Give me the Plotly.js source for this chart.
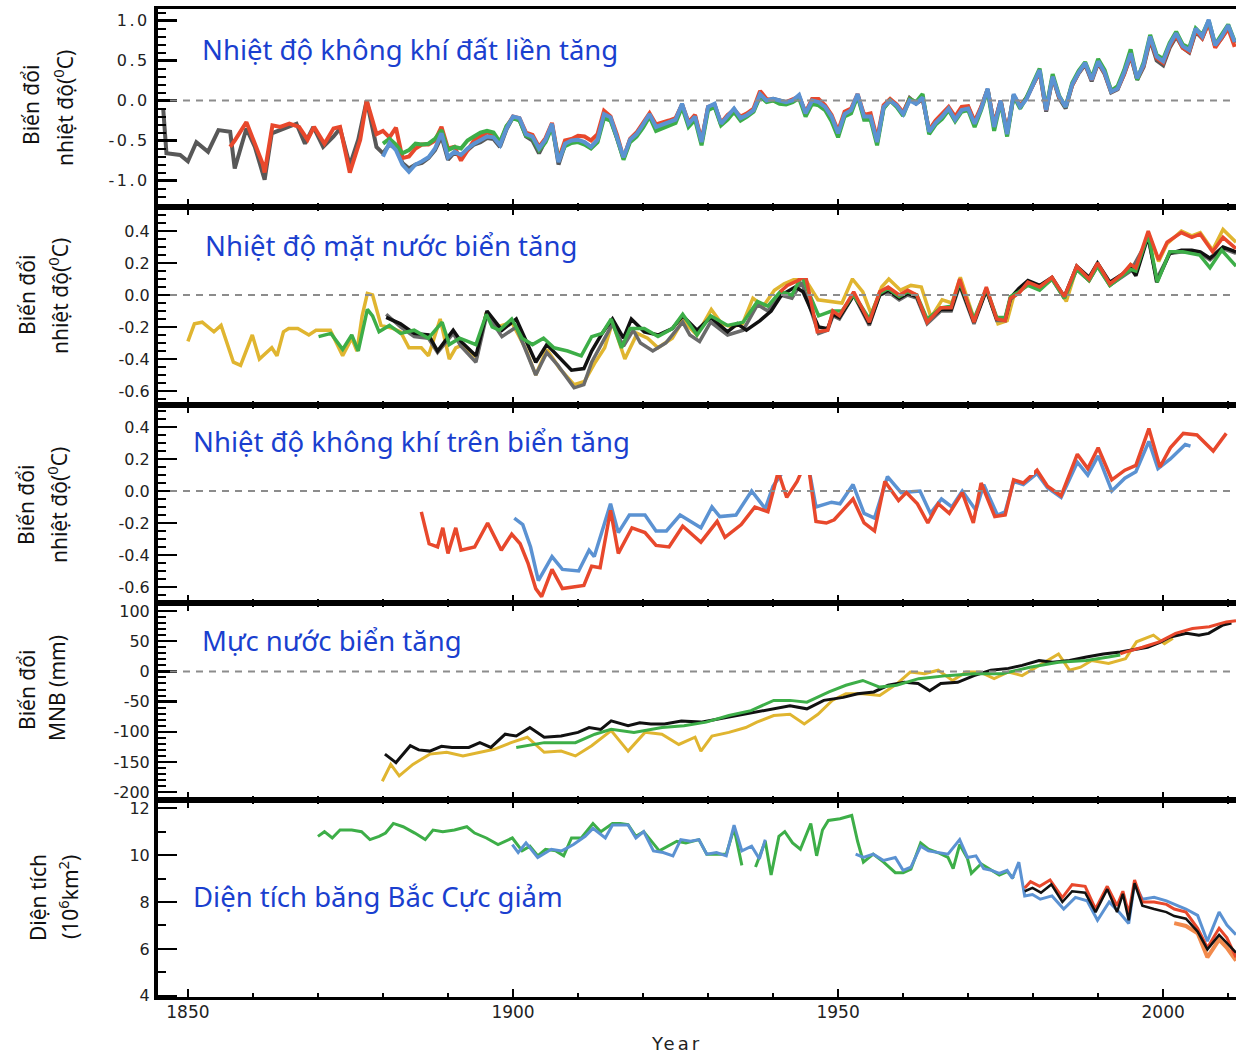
<!DOCTYPE html>
<html><head><meta charset="utf-8">
<script src="https://cdn.plot.ly/plotly-3.0.1.min.js"></script>
<style>
body{margin:0;background:#fff}
#chart{width:1236px;height:1053px}
.xtick text,.ytick text{letter-spacing:2.5px}
text[data-unformatted="Year"]{letter-spacing:3px}
</style></head><body><div id="chart"></div><script>
// ---------- DATA ----------
const xTickVals = [1850, 1900, 1950, 2000];
const xTickText = ['1850', '1900', '1950', '2000'];

const p1TickVals = [-1.0, -0.5, 0.0, 0.5, 1.0];
const p1TickText = ['-1.0', '-0.5', '0.0', '0.5', '1.0'];
const p23TickVals = [-0.6, -0.4, -0.2, 0.0, 0.2, 0.4];
const p23TickText = ['-0.6', '-0.4', '-0.2', '0.0', '0.2', '0.4'];
const p4TickVals = [-200, -150, -100, -50, 0, 50, 100];
const p4TickText = ['-200', '-150', '-100', '-50', '0', '50', '100'];
const p5TickVals = [4, 6, 8, 10, 12];
const p5TickText = ['4', '6', '8', '10', '12'];

// Panel 1: land surface air temperature anomaly (annual from 1880)
const p1Start = 1880;
const p1Blue = [-0.70,-0.53,-0.62,-0.80,-0.89,-0.80,-0.76,-0.71,-0.60,-0.41,-0.71,-0.64,-0.68,-0.60,-0.54,-0.49,-0.45,-0.46,-0.56,-0.35,
-0.20,-0.22,-0.42,-0.45,-0.60,-0.49,-0.29,-0.77,-0.54,-0.50,-0.49,-0.52,-0.58,-0.49,-0.17,-0.21,-0.45,-0.71,-0.49,-0.42,
-0.30,-0.17,-0.33,-0.30,-0.27,-0.24,-0.04,-0.29,-0.20,-0.52,-0.08,-0.04,-0.29,-0.20,-0.10,-0.22,-0.18,-0.12,0.08,0.00,
0.02,0.00,-0.02,0.00,0.07,-0.16,0.00,-0.02,-0.08,-0.20,-0.41,-0.17,-0.12,0.08,-0.20,-0.20,-0.52,-0.08,0.00,-0.06,
-0.17,0.00,-0.04,0.04,-0.39,-0.28,-0.20,-0.10,-0.24,-0.12,-0.10,-0.29,-0.10,0.15,-0.33,0.00,-0.42,0.08,-0.08,0.02,
0.20,0.38,-0.12,0.30,0.05,-0.08,0.20,0.35,0.47,0.26,0.49,0.35,0.11,0.15,0.35,0.59,0.28,0.45,0.80,0.55,
0.49,0.70,0.84,0.68,0.63,0.90,0.80,1.01,0.69,0.80,0.94,0.73];
const p1Red = [-0.38,-0.46,-0.34,-0.72,-0.70,-0.60,-0.55,-0.55,-0.50,-0.33,-0.60,-0.58,-0.75,-0.62,-0.50,-0.45,-0.40,-0.42,-0.53,-0.33,
-0.20,-0.22,-0.40,-0.43,-0.58,-0.47,-0.28,-0.74,-0.50,-0.48,-0.44,-0.45,-0.50,-0.42,-0.13,-0.20,-0.43,-0.72,-0.48,-0.40,
-0.28,-0.16,-0.30,-0.28,-0.25,-0.22,-0.05,-0.27,-0.18,-0.50,-0.08,-0.06,-0.28,-0.18,-0.12,-0.20,-0.16,-0.10,0.12,0.02,
0.00,-0.02,-0.02,0.02,0.05,-0.15,0.02,0.02,-0.06,-0.18,-0.38,-0.14,-0.10,0.08,-0.18,-0.16,-0.48,-0.06,0.02,-0.05,
-0.15,0.02,-0.03,0.03,-0.37,-0.25,-0.17,-0.08,-0.20,-0.08,-0.07,-0.26,-0.08,0.14,-0.30,0.00,-0.40,0.06,-0.06,0.03,
0.20,0.36,-0.12,0.30,0.04,-0.07,0.19,0.35,0.46,0.26,0.48,0.34,0.11,0.15,0.33,0.57,0.27,0.44,0.78,0.53,
0.47,0.68,0.82,0.66,0.61,0.88,0.78,0.97,0.66,0.77,0.90,0.67];
const p1Green = [-0.54,-0.48,-0.55,-0.66,-0.62,-0.54,-0.55,-0.54,-0.48,-0.37,-0.62,-0.58,-0.60,-0.50,-0.45,-0.40,-0.38,-0.40,-0.52,-0.32,
-0.22,-0.25,-0.44,-0.47,-0.62,-0.52,-0.33,-0.74,-0.57,-0.53,-0.52,-0.55,-0.60,-0.52,-0.22,-0.25,-0.47,-0.74,-0.52,-0.45,
-0.34,-0.20,-0.38,-0.35,-0.31,-0.28,-0.08,-0.33,-0.24,-0.56,-0.12,-0.08,-0.31,-0.24,-0.14,-0.25,-0.20,-0.14,0.05,-0.02,
0.00,-0.04,-0.05,-0.02,0.03,-0.20,-0.04,-0.06,-0.12,-0.26,-0.46,-0.20,-0.16,0.06,-0.24,-0.24,-0.56,-0.10,0.00,-0.08,
-0.19,0.02,-0.02,0.08,-0.42,-0.30,-0.23,-0.12,-0.26,-0.14,-0.12,-0.33,-0.12,0.13,-0.38,-0.02,-0.45,0.06,-0.10,0.04,
0.22,0.40,-0.10,0.33,0.06,-0.08,0.22,0.37,0.48,0.28,0.52,0.38,0.12,0.18,0.38,0.64,0.26,0.48,0.82,0.57,
0.52,0.72,0.86,0.70,0.66,0.90,0.82,1.00,0.70,0.82,0.95,0.74];
const p1Grey = [-0.66,-0.55,-0.60,-0.78,-0.85,-0.80,-0.78,-0.72,-0.62,-0.45,-0.74,-0.65,-0.70,-0.62,-0.55,-0.52,-0.47,-0.48,-0.58,-0.36,
-0.21,-0.24,-0.45,-0.50,-0.66,-0.50,-0.30,-0.80,-0.55,-0.52,-0.50,-0.53,-0.58,-0.50,-0.18,-0.23,-0.46,-0.72,-0.50,-0.43,
-0.32,-0.18,-0.33,-0.31,-0.27,-0.24,-0.05,-0.30,-0.20,-0.53,-0.09,-0.05,-0.30,-0.20,-0.11,-0.22,-0.18,-0.12,0.06,0.00,
0.02,0.00,-0.02,0.00,0.05,-0.16,0.00,-0.02,-0.08,-0.22,-0.42,-0.18,-0.12,0.06,-0.20,-0.21,-0.52,-0.09,0.00,-0.06,
-0.16,0.03,-0.04,0.02,-0.38,-0.26,-0.19,-0.10,-0.22,-0.12,-0.08,-0.28,-0.09,0.14,-0.30,0.00,-0.40,0.06,-0.07,0.04,
0.20,0.36,-0.14,0.29,0.03,-0.10,0.19,0.34,0.45,0.24,0.47,0.33,0.10,0.14,0.33,0.56,0.26,0.42,0.76,0.50,
0.44,0.66,0.80,0.66,0.60,0.86,0.78,0.98,0.68,0.78,0.92,0.72];
// early (pre-1880) readings [year, value]
const p1GreyEarly = [[1846.2,-0.10],[1846.7,-0.66],[1848.8,-0.68],[1850,-0.76],[1851.3,-0.52],[1853.1,-0.64],[1854.7,-0.37],[1856.5,-0.39],[1857.2,-0.85],[1859,-0.35],[1860.3,-0.58],[1861.8,-0.99],[1862.9,-0.41],[1864.2,-0.37],[1865.4,-0.33],[1866.7,-0.29],[1868,-0.54],[1869.3,-0.33],[1870.8,-0.58],[1872.4,-0.45],[1873.4,-0.35],[1874.9,-0.81],[1876.2,-0.49],[1877.5,0.0],[1879,-0.58]];
const p1RedEarly = [[1856.5,-0.58],[1857.2,-0.50],[1859,-0.27],[1860.3,-0.55],[1861.5,-0.79],[1861.8,-0.90],[1863,-0.31],[1864.2,-0.33],[1865.6,-0.29],[1867.1,-0.33],[1868.4,-0.49],[1869.4,-0.33],[1871,-0.54],[1872.4,-0.35],[1873.4,-0.33],[1874.9,-0.90],[1876.5,-0.49],[1877.5,0.0],[1879,-0.42]];

// Panel 2: sea surface temperature anomaly [year, value]
const p2Yellow = [[1850,-0.29],[1851,-0.18],[1852.2,-0.17],[1854,-0.23],[1855.1,-0.19],[1857,-0.42],[1858.1,-0.44],[1859.9,-0.25],[1861,-0.40],[1862.9,-0.33],[1863.7,-0.38],[1864.7,-0.23],[1865.5,-0.21],[1866.9,-0.21],[1868.6,-0.25],[1869.7,-0.22],[1871.9,-0.22],[1873.8,-0.38],[1875.2,-0.27],[1876,-0.35],[1876.8,-0.13],[1877.6,0.01],[1878.4,0.0],[1879.7,-0.19],[1881.6,-0.21],[1882.7,-0.23],[1884,-0.33],[1885.9,-0.33],[1887,-0.38],[1888.8,-0.15],[1890.2,-0.40],[1891.2,-0.33],[1892.3,-0.31],[1894.4,-0.39],[1895.9,-0.11],[1897.6,-0.20],[1899.8,-0.17],[1902,-0.34],[1903.5,-0.50],[1905.2,-0.34],[1907.2,-0.46],[1909.4,-0.56],[1911,-0.54],[1912.5,-0.43],[1914.1,-0.33],[1915.3,-0.17],[1917.2,-0.40],[1919.1,-0.24],[1920.7,-0.27],[1922.3,-0.33],[1924.5,-0.27],[1926.1,-0.16],[1928.3,-0.25],[1930.5,-0.09],[1932.1,-0.18],[1933.7,-0.20],[1935.3,-0.18],[1936.9,-0.02],[1938.5,-0.07],[1940.2,0.03],[1941.7,0.07],[1943.4,0.10],[1944.6,0.12],[1946.9,-0.03],[1949,-0.04],[1950.6,-0.05],[1952.2,0.10],[1953.8,0.02],[1955.1,-0.12],[1956.7,0.05],[1957.8,0.10],[1959.6,0.03],[1961.2,0.06],[1962.8,0.05],[1964.3,-0.14],[1966,-0.03],[1967.5,-0.05],[1968.8,0.11],[1971,-0.16],[1972.8,0.04],[1974.6,-0.18],[1976,-0.16],[1977,-0.01],[1979,0.07],[1981,0.04],[1983,0.10],[1985.1,-0.04],[1986.7,0.17],[1988.6,0.09],[1990,0.19],[1991.8,0.06],[1993.7,0.12],[1995,0.19],[1996,0.16],[1997.7,0.39],[1999.3,0.21],[2000.6,0.32],[2002.8,0.40],[2004.4,0.37],[2005.7,0.39],[2007.6,0.28],[2009.2,0.41],[2011.2,0.33]];
const p2Grey = [[1880.5,-0.12],[1882.7,-0.20],[1884.8,-0.26],[1887,-0.27],[1888.4,-0.36],[1890.8,-0.24],[1892,-0.32],[1894.3,-0.42],[1896,-0.12],[1898.3,-0.26],[1900.5,-0.20],[1902,-0.35],[1903.5,-0.50],[1905.2,-0.36],[1906.9,-0.44],[1909.4,-0.58],[1910.9,-0.56],[1912.1,-0.42],[1913.7,-0.30],[1915.3,-0.18],[1917,-0.32],[1918.5,-0.22],[1919.6,-0.30],[1921.5,-0.35],[1923.5,-0.30],[1926.1,-0.17],[1927.2,-0.25],[1928.7,-0.29],[1930.4,-0.17],[1933,-0.25],[1935.4,-0.22],[1937.6,-0.06],[1939.2,-0.10],[1941.1,0.0],[1942.9,-0.02],[1944.4,0.08],[1947,-0.24],[1948.4,-0.22],[1949.2,-0.13],[1950.2,-0.15],[1952.4,0.0],[1953.4,-0.08],[1954.8,-0.19],[1956.4,0.0],[1957.7,0.02],[1959.4,-0.03],[1960.7,0.0],[1962.1,-0.02],[1963.7,-0.18],[1965.8,-0.10],[1967.4,-0.10],[1968.7,0.06],[1970.9,-0.18],[1972.8,0.03],[1974.4,-0.16],[1975.7,-0.16],[1976.5,-0.03],[1977.8,0.02],[1979.2,0.07],[1981,0.05],[1982.9,0.10],[1984.8,-0.02],[1986.7,0.16],[1988.6,0.09],[1989.9,0.18],[1991.8,0.06],[1993.7,0.11],[1995,0.15],[1997.7,0.35],[1999,0.10],[2001,0.26],[2003,0.27],[2005.7,0.26],[2007.2,0.22],[2009.2,0.29],[2011.2,0.26]];
const p2Black = [[1880.5,-0.14],[1882.7,-0.18],[1884.8,-0.24],[1887,-0.25],[1888.4,-0.35],[1890.8,-0.22],[1892,-0.29],[1894.3,-0.38],[1896,-0.10],[1898.3,-0.22],[1900.5,-0.15],[1902,-0.29],[1903.5,-0.42],[1905.2,-0.31],[1906.9,-0.38],[1909,-0.47],[1910.9,-0.46],[1912.1,-0.35],[1913.7,-0.24],[1915.3,-0.15],[1917,-0.27],[1918.2,-0.15],[1920.2,-0.23],[1922.3,-0.25],[1924.5,-0.21],[1926.1,-0.13],[1928.3,-0.22],[1930.4,-0.14],[1933,-0.23],[1934.5,-0.18],[1935.9,-0.22],[1938,-0.16],[1939.7,-0.10],[1941.3,0.0],[1943.4,0.05],[1944.6,0.02],[1947,-0.20],[1948.4,-0.21],[1949.2,-0.12],[1950.2,-0.14],[1952.4,0.0],[1953.4,-0.07],[1954.8,-0.18],[1956.4,0.0],[1957.7,0.03],[1959.4,-0.02],[1960.7,0.01],[1962.1,-0.01],[1963.7,-0.16],[1965.8,-0.09],[1967.4,-0.09],[1968.7,0.07],[1970.9,-0.17],[1972.8,0.03],[1974.4,-0.15],[1975.7,-0.15],[1976.5,-0.02],[1977.8,0.04],[1979.2,0.09],[1981,0.06],[1982.9,0.11],[1984.8,-0.01],[1986.7,0.18],[1988.6,0.11],[1989.9,0.20],[1991.8,0.08],[1993.7,0.13],[1995,0.17],[1995.8,0.12],[1997.7,0.37],[1999,0.08],[2001,0.26],[2002.8,0.28],[2004.4,0.28],[2005.7,0.27],[2007.2,0.23],[2009.2,0.30],[2011.2,0.27]];
const p2Green = [[1870.1,-0.26],[1872,-0.24],[1873.8,-0.34],[1875.2,-0.25],[1876.2,-0.35],[1877.6,-0.09],[1878.4,-0.13],[1879.4,-0.23],[1881,-0.19],[1882.7,-0.24],[1884.8,-0.22],[1887,-0.27],[1889.1,-0.17],[1890.2,-0.31],[1891.8,-0.27],[1893.5,-0.30],[1894.3,-0.31],[1895.9,-0.12],[1896.8,-0.20],[1897.9,-0.22],[1899.8,-0.15],[1901.4,-0.27],[1903,-0.31],[1904.7,-0.27],[1906.3,-0.33],[1908.4,-0.35],[1910.5,-0.38],[1912.1,-0.26],[1913.7,-0.24],[1915.1,-0.15],[1916.7,-0.33],[1918,-0.21],[1920.2,-0.21],[1922.3,-0.26],[1924.5,-0.21],[1926.1,-0.12],[1928.3,-0.25],[1930.4,-0.13],[1933,-0.19],[1935.4,-0.17],[1937.6,-0.04],[1939.2,-0.07],[1941.1,0.02],[1942.9,0.0],[1944.4,0.12],[1947,-0.13],[1949,-0.10],[1950.6,-0.10],[1952.3,0.0],[1953.4,-0.06],[1954.8,-0.15],[1956.4,0.01],[1957.7,0.04],[1959.4,-0.01],[1960.7,0.02],[1962.1,0.0],[1963.7,-0.15],[1965.8,-0.08],[1967.4,-0.07],[1968.7,0.08],[1970.9,-0.15],[1972.8,0.04],[1974.4,-0.14],[1975.7,-0.14],[1976.5,-0.01],[1977.8,0.02],[1979.2,0.06],[1981,0.03],[1982.9,0.10],[1984.8,-0.02],[1986.7,0.16],[1988.6,0.09],[1989.9,0.18],[1991.8,0.06],[1993.7,0.12],[1995,0.16],[1995.8,0.15],[1997.7,0.38],[1999.1,0.08],[2001,0.27],[2003,0.27],[2005.6,0.25],[2007.2,0.17],[2009,0.28],[2011.2,0.18]];
const p2Red = [[1941.1,0.02],[1942.2,0.06],[1943.8,0.09],[1945,0.12],[1946.8,-0.23],[1948.4,-0.22],[1949.2,-0.10],[1950.2,-0.13],[1952.4,0.02],[1953.4,-0.06],[1954.8,-0.17],[1956.4,0.02],[1957.7,0.05],[1959.4,0.0],[1960.7,0.03],[1962.1,0.0],[1963.7,-0.17],[1965.8,-0.08],[1967.4,-0.08],[1968.7,0.10],[1970.9,-0.17],[1972.8,0.05],[1974.4,-0.15],[1975.7,-0.16],[1976.5,-0.02],[1977.8,0.01],[1979.2,0.08],[1981,0.05],[1982.9,0.11],[1984.8,-0.01],[1986.7,0.18],[1988.6,0.10],[1989.9,0.20],[1991.8,0.07],[1993.7,0.13],[1995,0.19],[1995.8,0.17],[1997.7,0.40],[1999.3,0.22],[2000.6,0.33],[2002.8,0.39],[2004.4,0.36],[2005.7,0.38],[2007.6,0.27],[2009.2,0.36],[2011.2,0.29]];

// Panel 3: marine air temperature anomaly [year, value]
const p3Red = [[1885.9,-0.13],[1887.1,-0.33],[1888.4,-0.35],[1889.2,-0.23],[1890,-0.39],[1891.2,-0.23],[1892,-0.37],[1894.1,-0.35],[1896.1,-0.20],[1898.2,-0.37],[1899.8,-0.27],[1901.1,-0.33],[1902.3,-0.45],[1903.5,-0.61],[1904.4,-0.66],[1906,-0.49],[1907.6,-0.61],[1910.9,-0.59],[1912.1,-0.47],[1913.4,-0.48],[1915,-0.12],[1916.2,-0.39],[1918.3,-0.23],[1920.3,-0.26],[1922,-0.34],[1924,-0.35],[1926.1,-0.22],[1928.9,-0.32],[1931.4,-0.19],[1932.6,-0.29],[1935.1,-0.21],[1937.2,-0.10],[1939.2,-0.13],[1940.8,0.12],[1942.1,-0.04],[1943.7,0.06],[1944.8,0.16],[1945.5,0.14],[1946.6,-0.19],[1948.2,-0.20],[1949.4,-0.18],[1950.7,-0.12],[1952.3,-0.05],[1954,-0.20],[1955.6,-0.25],[1957.2,0.06],[1959.3,-0.06],[1960.5,-0.01],[1962.2,-0.08],[1963.8,-0.20],[1965.4,-0.08],[1967.1,-0.14],[1969.1,-0.01],[1970.8,-0.20],[1972,0.05],[1974.1,-0.16],[1975.7,-0.15],[1977,0.07],[1978.5,0.05],[1980.6,0.13],[1982.2,0.03],[1984.3,-0.03],[1986.8,0.23],[1988.4,0.14],[1990,0.27],[1992.1,0.07],[1994.1,0.13],[1995.8,0.16],[1997.8,0.39],[1999.5,0.15],[2001.1,0.27],[2003.1,0.36],[2005.2,0.35],[2007.7,0.25],[2009.7,0.36]];
const p3Blue = [[1900.2,-0.17],[1901.5,-0.21],[1902.7,-0.35],[1903.9,-0.56],[1906,-0.41],[1907.6,-0.49],[1910.1,-0.50],[1911.7,-0.37],[1912.5,-0.41],[1915,-0.08],[1916.2,-0.26],[1917.9,-0.15],[1920.3,-0.15],[1922,-0.25],[1923.6,-0.25],[1925.7,-0.15],[1928.9,-0.23],[1930.6,-0.10],[1931.8,-0.16],[1934.3,-0.15],[1936.7,0.0],[1938.8,-0.11],[1940,0.03],[1941.5,0.12],[1944,0.15],[1945.5,0.14],[1946.6,-0.10],[1949,-0.07],[1950.3,-0.08],[1952.3,0.04],[1954,-0.14],[1955.6,-0.17],[1957.6,0.09],[1959.7,-0.01],[1962.6,0.0],[1964.2,-0.14],[1965.9,-0.05],[1967.5,-0.10],[1969.1,0.0],[1971.2,-0.12],[1972.4,0.04],[1974.5,-0.15],[1975.7,-0.13],[1977,0.06],[1978.5,0.04],[1980.6,0.11],[1982.2,0.02],[1984.3,-0.04],[1986.8,0.18],[1988.4,0.10],[1990,0.22],[1992.1,0.0],[1994.1,0.08],[1995.8,0.12],[1997.8,0.31],[1999.2,0.14],[2001.1,0.20],[2003.4,0.29],[2004.2,0.28]];

// Panel 4: sea level change (mm) [year, value]
const p4Yellow = [[1879.9,-182],[1881.2,-154],[1882.5,-173],[1884.6,-154],[1887.2,-137],[1889.8,-134],[1892.3,-140],[1894.9,-134],[1897.1,-129],[1899.7,-118],[1902.2,-109],[1904.8,-134],[1907.4,-132],[1909.6,-140],[1912.1,-123],[1915.1,-98],[1917.7,-132],[1920.3,-101],[1922.9,-104],[1925.5,-121],[1928,-109],[1928.9,-132],[1930.6,-107],[1933.2,-101],[1935.8,-93],[1937.5,-84],[1940.1,-73],[1942.6,-71],[1944.8,-87],[1946.9,-71],[1949.1,-48],[1951.2,-37],[1953.8,-37],[1956.4,-40],[1959,-21],[1961.1,-1],[1963.3,-4],[1965.4,2],[1967.6,-15],[1969.7,-1],[1971.8,-1],[1974,-12],[1976.2,-1],[1978.3,-7],[1980.9,10],[1983.9,29],[1985.6,2],[1987.3,7],[1989,18],[1991.6,13],[1994.2,21],[1995.9,49],[1998.5,60],[2000.2,46],[2001.5,55]];
const p4Black = [[1880.3,-137],[1882,-151],[1884.2,-123],[1885.5,-130],[1887.2,-132],[1889,-124],[1890.6,-126],[1893.2,-126],[1894.9,-118],[1896.6,-126],[1898.8,-104],[1900.5,-107],[1902.6,-93],[1904.8,-109],[1907.4,-107],[1910,-101],[1911.7,-93],[1913.5,-96],[1915.1,-82],[1917.7,-90],[1919.5,-85],[1921.2,-87],[1923.3,-87],[1925.9,-82],[1928.9,-84],[1931.5,-79],[1934.5,-73],[1937.5,-68],[1940.1,-62],[1942.6,-57],[1945.2,-62],[1947.8,-48],[1950.8,-43],[1953,-37],[1955.5,-34],[1957.7,-23],[1960.2,-18],[1962.3,-20],[1964.1,-32],[1965.8,-20],[1968.4,-18],[1970.9,-7],[1973.5,2],[1976.2,5],[1978.3,10],[1980.9,18],[1983,15],[1985.6,18],[1988.2,24],[1990.8,29],[1993.4,32],[1995.5,36],[1997.6,40],[1999.5,48],[2001.1,57],[2003.6,63],[2005.5,60],[2007,63],[2009.2,77],[2010.5,80]];
const p4Green = [[1900.5,-126],[1904.8,-118],[1909.6,-118],[1912.6,-104],[1915.1,-96],[1918.6,-101],[1922.9,-93],[1926.3,-90],[1929.7,-84],[1933.2,-73],[1936.6,-65],[1940.1,-48],[1942.6,-48],[1945.2,-51],[1948.6,-34],[1951.2,-23],[1953.8,-15],[1956.4,-26],[1959,-23],[1962.4,-12],[1966.7,-7],[1970.9,-4],[1975.2,-4],[1979.5,7],[1983.9,15],[1988.2,18],[1991.6,24],[1993.4,27]];
const p4Red = [[1993.4,29],[1994.2,32],[1996.8,40],[1999.4,49],[2001.9,63],[2004.5,71],[2007.1,74],[2009.7,82],[2011.2,84]];

// Panel 5: Arctic summer sea-ice extent (10^6 km^2) [year, value]; null = gap
const p5Green = [[1870,10.80],[1871,11.0],[1872.2,10.73],[1873.4,11.07],[1875.2,11.07],[1876.7,11.0],[1878,10.66],[1879.4,10.80],[1880.4,10.94],[1881.6,11.35],[1883.1,11.21],[1884.9,10.94],[1886.5,10.66],[1887.7,11.07],[1889.2,11.0],[1891,11.07],[1892.9,11.21],[1894.1,10.94],[1895.9,10.73],[1897.7,10.45],[1899.9,10.73],[1901.4,10.18],[1902.6,10.38],[1903.8,9.97],[1905,10.25],[1906.6,10.18],[1907.8,9.97],[1909,10.73],[1910.5,10.73],[1912.3,11.35],[1913.5,11.0],[1915.3,11.35],[1916.5,11.35],[1917.7,11.30],[1918.9,10.80],[1920.1,11.0],[1922.5,10.18],[1923.8,10.38],[1925.2,10.59],[1926.6,10.52],[1928.6,10.66],[1929.8,10.04],[1931.3,10.04],[1932.8,10.04],[1934,11.14],[1935.2,9.56],[1936,null],[1937.3,9.49],[1938.8,10.59],[1939.7,9.15],[1940.9,10.80],[1941.8,11.0],[1943,10.52],[1944.2,10.25],[1945.8,11.35],[1946.7,9.97],[1947.6,11.07],[1948.5,11.48],[1950.3,11.55],[1952.1,11.69],[1953,10.59],[1953.9,9.70],[1955.4,10.04],[1957,9.70],[1958.8,9.25],[1960,9.25],[1961.2,9.40],[1962.7,10.52],[1963.9,10.25],[1965.4,10.10],[1966.9,9.90],[1967.7,9.42],[1968.7,10.45],[1969.9,9.85],[1970.5,9.22],[1972,9.63],[1973.6,9.35],[1974.8,9.15],[1976,9.30],[1977,9.0]];
const p5Blue = [[1899.9,10.45],[1900.8,10.11],[1902,10.52],[1903.8,9.90],[1905.9,10.25],[1907.5,10.18],[1909.3,10.45],[1911.1,10.80],[1912.3,11.14],[1914.2,10.73],[1915.3,11.28],[1916.5,11.28],[1917.7,11.28],[1918.9,10.73],[1920.1,11.0],[1921.6,10.18],[1923.1,10.11],[1924.6,9.97],[1925.8,10.66],[1927.3,10.59],[1928.6,10.66],[1929.8,10.04],[1931.3,10.11],[1932.8,9.97],[1934,11.28],[1935.2,10.18],[1936.7,10.38],[1937.9,9.84],[1938.8,10.66],[1945,null],[1952.7,10.04],[1953.9,9.90],[1955.4,10.04],[1957,9.77],[1958.8,9.90],[1960,9.35],[1961.2,9.49],[1962.7,10.38],[1963.9,10.18],[1965.4,10.11],[1966.9,10.04],[1968.7,10.66],[1969.9,9.90],[1971.2,9.97],[1972.4,9.42],[1973.6,9.35],[1974.8,9.22],[1976,9.35],[1976.8,9.01],[1977.8,9.70],[1978.7,8.26],[1979.9,8.32],[1981.1,8.12],[1982.9,8.26],[1984.7,7.70],[1986.5,8.20],[1988.3,8.05],[1989.9,7.22],[1991.7,8.0],[1993.2,7.57],[1994.7,7.08],[1995.6,8.80],[1996.8,8.12],[1998.6,8.20],[2000.5,8.05],[2002.3,7.84],[2003.5,7.70],[2005.3,7.43],[2006.8,6.33],[2008.6,7.57],[2009.8,7.02],[2011.2,6.61]];
const p5Orange = [[2001.7,7.10],[2003.5,6.98],[2005.3,6.67],[2006.8,5.64],[2008.6,6.40],[2009.8,6.05],[2011.2,5.50]];
const p5Red = [[1978.7,8.60],[1979.6,8.87],[1981,8.67],[1982.6,8.94],[1984.5,8.19],[1986,8.74],[1988,8.67],[1989.6,7.70],[1991.4,8.67],[1992.9,7.84],[1993.8,8.46],[1994.7,7.50],[1995.6,8.94],[1996.8,8.0],[1998.6,8.0],[2000.5,7.90],[2001.7,7.70],[2003.5,7.57],[2005.3,6.88],[2006.8,6.05],[2008.6,6.88],[2009.8,6.47],[2011.2,5.64]];
const p5Black = [[1978.7,8.46],[1979.9,8.60],[1981.2,8.40],[1982.8,8.75],[1984.5,8.0],[1986,8.46],[1988,8.40],[1989.6,7.57],[1991.4,8.55],[1992.9,7.57],[1993.8,8.35],[1994.7,7.22],[1995.6,8.80],[1996.8,7.84],[1998.6,7.70],[2000.5,7.57],[2001.7,7.40],[2003.5,7.29],[2005.3,6.74],[2006.8,5.98],[2008.6,6.60],[2009.8,6.26],[2011.2,5.84]];

// ---------- STYLE / LAYOUT ----------
const C = {red:'#e8482c', blue:'#5b92d2', green:'#3dae48', grey:'#585858', black:'#111111', yellow:'#e0b530', orange:'#f28a4c'};
const W = 1236, H = 1053, ML = 158, MR = 0, MT = 9, MB = 56;
const PW = W - ML - MR, PH = H - MT - MB;
const px = v => (v - ML) / PW;
const py = v => (H - MB - v) / PH;

function annual(start, vals){ return {x: vals.map((_, i) => start + i), y: vals}; }
function pairs(arr){ return {x: arr.map(p => p[0]), y: arr.map(p => p[1])}; }
function join(a, b){ return {x: a.x.concat(b.x), y: a.y.concat(b.y)}; }
function tr(d, color, width, n){
  return {type:'scatter', mode:'lines', x:d.x, y:d.y, xaxis:'x'+(n===1?'':n), yaxis:'y'+(n===1?'':n),
    line:{color:color, width:width}, connectgaps:false, showlegend:false, hoverinfo:'skip'};
}

const traces = [
  tr(join(pairs(p1GreyEarly), annual(p1Start, p1Grey)), C.grey, 4, 1),
  tr(join(pairs(p1RedEarly), annual(p1Start, p1Red)), C.red, 4, 1),
  tr(annual(p1Start, p1Green), C.green, 4, 1),
  tr(annual(p1Start, p1Blue), C.blue, 4, 1),

  tr(pairs(p2Yellow), C.yellow, 3.5, 2),
  tr(pairs(p2Grey), '#6a6a6a', 3.5, 2),
  tr(pairs(p2Black), C.black, 3.5, 2),
  tr(pairs(p2Green), C.green, 3.5, 2),
  tr(pairs(p2Red), C.red, 3.5, 2),

  tr(pairs(p3Blue), C.blue, 3.5, 3),
  tr(pairs(p3Red), C.red, 3.5, 3),

  tr(pairs(p4Yellow), C.yellow, 3, 4),
  tr(pairs(p4Black), C.black, 3, 4),
  tr(pairs(p4Green), C.green, 3, 4),
  tr(pairs(p4Red), C.red, 3, 4),

  tr(pairs(p5Green), C.green, 3, 5),
  tr(pairs(p5Blue), C.blue, 3, 5),
  tr(pairs(p5Orange), C.orange, 4, 5),
  tr(pairs(p5Red), C.red, 3, 5),
  tr(pairs(p5Black), C.black, 2.5, 5)
];

const tickFont = {family:'DejaVu Sans, sans-serif', size:16, color:'#222'};
const bounds = [9, 207, 405, 603, 800, 997];
const yRanges = [[-1.331, 1.144], [-0.6875, 0.55], [-0.70, 0.5375], [-213, 113.3], [3.95, 12.35]];
const yTicks = [[p1TickVals, p1TickText, 0.1], [p23TickVals, p23TickText, 0.05], [p23TickVals, p23TickText, 0.05], [p4TickVals, p4TickText, 10], [p5TickVals, p5TickText, 1]];

const layout = {width:W, height:H, margin:{l:ML, r:MR, t:MT, b:MB}, paper_bgcolor:'#fff', plot_bgcolor:'#fff', showlegend:false,
  shapes:[], annotations:[]};

for (let i = 1; i <= 5; i++){
  const s = i === 1 ? '' : String(i);
  layout['xaxis' + s] = {
    domain:[0, 1], anchor:'y' + s, range:[1845.4, 2011.2], showgrid:false, zeroline:false,
    showline:true, linecolor:'#000', linewidth:3, mirror: i === 1 ? true : 'ticks',
    ticks:'inside', ticklen:8, tickwidth:2.5, tickcolor:'#000',
    tickvals:xTickVals, ticktext:xTickText,
    minor:{ticks:'inside', dtick:10, tick0:1850, ticklen:4, tickwidth:2, tickcolor:'#000'},
    showticklabels: i === 5, tickfont:{family:'DejaVu Sans, sans-serif', size:17, color:'#222'}, ticklabelstandoff:-2
  };
  if (i > 1) layout['xaxis' + s].matches = 'x';
  const t = yTicks[i - 1];
  layout['yaxis' + s] = {
    domain:[py(bounds[i]), py(bounds[i - 1])], anchor:'x' + s, range:yRanges[i - 1],
    showgrid:false, zeroline:false, showline:true, linecolor:'#000', linewidth:4,
    ticks:'inside', ticklen:19, tickwidth:2.5, tickcolor:'#000',
    tickvals:t[0], ticktext:t[1],
    minor:{ticks:'inside', dtick:t[2], ticklen:8, tickwidth:2, tickcolor:'#000'},
    tickfont:tickFont, ticklabelstandoff:1
  };
  if (i < 5){
    layout.shapes.push({type:'line', xref:'paper', yref:'y' + s, x0:px(170), x1:1, y0:0, y1:0,
      line:{color:'#8c8c8c', width:2, dash:'7px,6px'}});
  }
}
// white label boxes (they mask the curves below the panel titles in the original)
layout.shapes.push({type:'rect', xref:'paper', yref:'paper', x0:px(192), x1:px(880), y0:py(278), y1:py(216), fillcolor:'#fff', line:{width:0}, layer:'above'});
layout.shapes.push({type:'rect', xref:'paper', yref:'paper', x0:px(185), x1:px(1034), y0:py(475), y1:py(414), fillcolor:'#fff', line:{width:0}, layer:'above'});

const labelFont = {family:'Noto Sans, sans-serif', size:27.5, color:'#1a3fcf'};
const panelLabels = [
  ['Nhiệt độ không khí đất liền tăng', 200, 49],
  ['Nhiệt độ mặt nước biển tăng', 203, 245],
  ['Nhiệt độ không khí trên biển tăng', 191, 441],
  ['Mực nước biển tăng', 200, 640],
  ['Diện tích băng Bắc Cực giảm', 191, 896]
];
panelLabels.forEach(l => layout.annotations.push({text:l[0], xref:'paper', yref:'paper', x:px(l[1]), y:py(l[2]),
  xanchor:'left', yanchor:'middle', showarrow:false, font:labelFont}));

const titleFont = {family:'Noto Sans, sans-serif', size:21, color:'#111'};
const axisTitles = [
  ['Biến đổi', 31, 105], ['nhiệt độ(<sup>0</sup>C)', 63, 108],
  ['Biến đổi', 27, 295], ['nhiệt độ(<sup>0</sup>C)', 58, 296],
  ['Biến đổi', 26, 505], ['nhiệt độ(<sup>0</sup>C)', 57, 505],
  ['Biến đổi', 27, 690], ['MNB (mm)', 57, 688],
  ['Diện tích', 38, 898], ['(10<sup>6</sup>km<sup>2</sup>)', 68, 897]
];
axisTitles.forEach(a => layout.annotations.push({text:a[0], xref:'paper', yref:'paper', x:px(a[1]), y:py(a[2]),
  xanchor:'center', yanchor:'middle', textangle:-90, showarrow:false, font:titleFont}));

layout.annotations.push({text:'Year', xref:'paper', yref:'paper', x:px(676), y:py(1043), xanchor:'center', yanchor:'middle',
  showarrow:false, font:{family:'DejaVu Sans, sans-serif', size:18, color:'#222'}});

Plotly.newPlot('chart', traces, layout, {displayModeBar:false, staticPlot:true});
</script></body></html>
